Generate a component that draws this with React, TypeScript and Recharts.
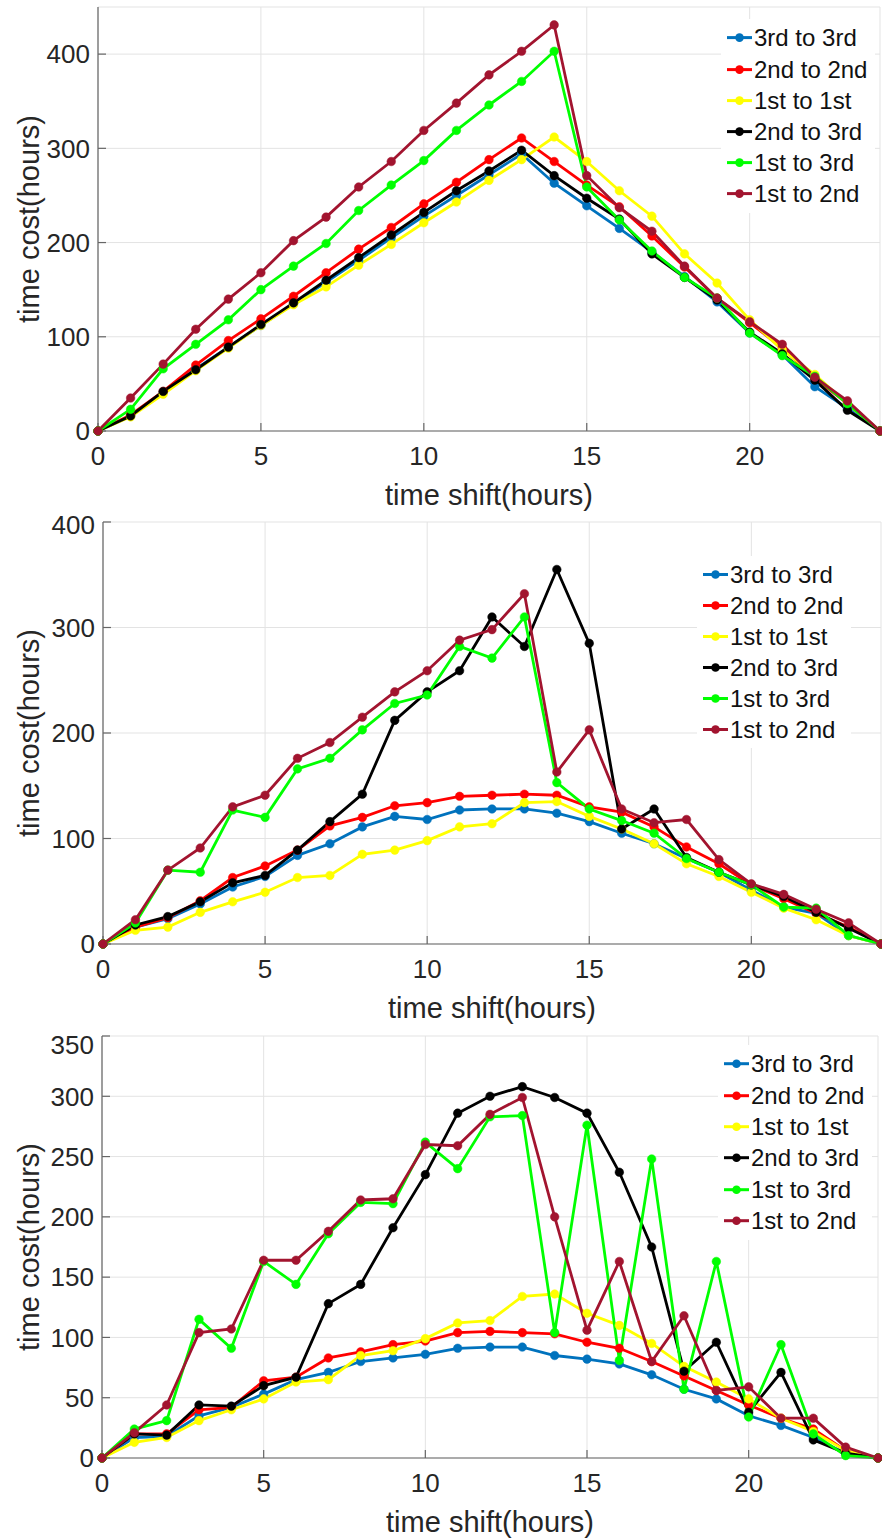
import { LineChart, Line, XAxis, YAxis, CartesianGrid } from 'recharts';

const hours = [0, 1, 2, 3, 4, 5, 6, 7, 8, 9, 10, 11, 12, 13, 14, 15, 16, 17, 18, 19, 20, 21, 22, 23, 24];

const seriesNames = ['3rd to 3rd', '2nd to 2nd', '1st to 1st', '2nd to 3rd', '1st to 3rd', '1st to 2nd'];
const seriesColors = ['#0072BD', '#FF0000', '#FFFF00', '#000000', '#00FF00', '#A2142F'];

const xTicks = [0, 5, 10, 15, 20];
const yTicksTop = [0, 100, 200, 300, 400];
const yTicksMid = [0, 100, 200, 300, 400];
const yTicksBottom = [0, 50, 100, 150, 200, 250, 300, 350];

// panel 1
const topBlue = [0, 16, 41, 66, 89, 112, 135, 158, 181, 205, 228, 250, 272, 294, 263, 239, 215, 190, 164, 137, 104, 81, 47, 24, 0];
const topRed = [0, 17, 42, 70, 96, 119, 143, 168, 193, 216, 241, 264, 288, 311, 286, 261, 238, 207, 174, 141, 115, 88, 56, 29, 0];
const topYellow = [0, 15, 39, 64, 88, 112, 134, 153, 176, 198, 221, 243, 266, 288, 312, 286, 255, 228, 188, 157, 118, 86, 60, 29, 0];
const topBlack = [0, 16, 42, 65, 89, 113, 136, 160, 184, 208, 232, 255, 276, 298, 271, 247, 225, 188, 163, 139, 105, 82, 54, 22, 0];
const topGreen = [0, 23, 66, 92, 118, 150, 175, 199, 234, 261, 287, 319, 346, 371, 403, 259, 224, 191, 163, 141, 104, 80, 58, 29, 0];
const topBrown = [0, 35, 71, 108, 140, 168, 202, 227, 259, 286, 319, 348, 378, 403, 431, 271, 237, 212, 175, 141, 116, 92, 57, 32, 0];

// panel 2
const midBlue = [0, 16, 24, 38, 54, 64, 84, 95, 111, 121, 118, 127, 128, 128, 124, 116, 105, 95, 81, 68, 51, 35, 29, 8, 0];
const midRed = [0, 16, 25, 41, 63, 74, 89, 112, 120, 131, 134, 140, 141, 142, 141, 130, 125, 111, 92, 76, 56, 43, 29, 16, 0];
const midYellow = [0, 13, 16, 30, 40, 49, 63, 65, 85, 89, 98, 111, 114, 134, 135, 121, 109, 95, 76, 64, 49, 34, 23, 8, 0];
const midBlack = [0, 18, 26, 40, 58, 65, 89, 116, 142, 212, 239, 259, 310, 282, 355, 285, 109, 128, 82, 68, 56, 45, 30, 15, 0];
const midGreen = [0, 20, 70, 68, 127, 120, 166, 176, 203, 228, 236, 282, 271, 310, 153, 128, 117, 105, 81, 68, 56, 35, 34, 8, 0];
const midBrown = [0, 23, 70, 91, 130, 141, 176, 191, 215, 239, 259, 288, 298, 332, 163, 203, 128, 115, 118, 80, 57, 47, 33, 20, 0];

// panel 3
const botBlue = [0, 17, 18, 35, 42, 53, 65, 71, 80, 83, 86, 91, 92, 92, 85, 82, 78, 69, 57, 49, 35, 27, 17, 4, 0];
const botRed = [0, 20, 20, 40, 42, 64, 67, 83, 88, 94, 97, 104, 105, 104, 103, 96, 91, 80, 68, 56, 44, 33, 24, 6, 0];
const botYellow = [0, 13, 17, 31, 40, 49, 63, 65, 85, 89, 99, 112, 114, 134, 136, 120, 110, 95, 76, 63, 49, 33, 22, 6, 0];
const botBlack = [0, 20, 19, 44, 43, 60, 67, 128, 144, 191, 235, 286, 300, 308, 299, 286, 237, 175, 72, 96, 38, 71, 15, 4, 0];
const botGreen = [0, 24, 31, 115, 91, 163, 144, 186, 212, 211, 262, 240, 283, 284, 104, 276, 81, 248, 57, 163, 34, 94, 20, 2, 0];
const botBrown = [0, 21, 44, 104, 107, 164, 164, 188, 214, 215, 260, 259, 285, 299, 200, 106, 163, 80, 118, 56, 59, 33, 33, 9, 0];

const FONT = '"Liberation Sans", Arial, sans-serif';
const W = 882;
const AXIS = '#666';

type PanelProps = {
  top: number;
  height: number;
  plotTop: number;
  plotBottom: number;
  plotLeft: number;
  plotRight: number;
  yMax: number;
  yTicks: number[];
  series: number[][];
  legendX: number;
  legendY: number;
  rowGap: number;
};

function LegendBox({ x, y, gap }: { x: number; y: number; gap: number }) {
  return (
    <div
      style={{
        position: 'absolute',
        left: x - 5,
        top: y - gap / 2 - 3,
        background: '#fff',
        padding: '3px 8px 3px 5px',
        fontFamily: FONT,
        fontSize: 24,
        color: '#111',
      }}
    >
      {seriesNames.map((name, i) => (
        <div key={name} style={{ display: 'flex', alignItems: 'center', height: gap, lineHeight: `${gap}px`, whiteSpace: 'nowrap' }}>
          <svg width={27} height={gap} style={{ display: 'block' }}>
            <line x1={1} x2={26} y1={gap / 2} y2={gap / 2} stroke={seriesColors[i]} strokeWidth={3} />
            <circle cx={13.5} cy={gap / 2} r={4.3} fill={seriesColors[i]} />
          </svg>
          <span style={{ marginLeft: 1 }}>{name}</span>
        </div>
      ))}
    </div>
  );
}

function Panel(p: PanelProps) {
  const data = hours.map((h, i) => {
    const row: Record<string, number> = { h };
    p.series.forEach((s, k) => {
      row['s' + k] = s[i];
    });
    return row;
  });
  const tick = { fontFamily: FONT, fontSize: 26, fill: '#262626' };
  const plotH = p.plotBottom - p.plotTop;
  const cx = (p.plotLeft + p.plotRight) / 2;
  const line = { stroke: AXIS, strokeWidth: 1.2 };

  return (
    <div style={{ position: 'absolute', left: 0, top: p.top, width: W, height: p.height }}>
      <LineChart
        width={W}
        height={p.height}
        data={data}
        margin={{ top: p.plotTop, right: W - p.plotRight, bottom: p.height - p.plotBottom - 30, left: 0 }}
      >
        <CartesianGrid stroke="#e3e3e3" strokeWidth={1} />
        <XAxis
          dataKey="h"
          type="number"
          domain={[0, 24]}
          ticks={xTicks}
          tick={tick}
          tickSize={-8}
          tickMargin={24}
          height={30}
          axisLine={line}
          tickLine={line}
        />
        <XAxis
          xAxisId="top"
          orientation="top"
          dataKey="h"
          type="number"
          domain={[0, 24]}
          ticks={xTicks}
          tick={false}
          tickSize={-8}
          height={0}
          axisLine={line}
          tickLine={line}
        />
        <YAxis
          type="number"
          domain={[0, p.yMax]}
          ticks={p.yTicks}
          tick={tick}
          tickSize={-8}
          tickMargin={16}
          width={p.plotLeft}
          axisLine={line}
          tickLine={line}
        />
        <YAxis
          yAxisId="right"
          orientation="right"
          type="number"
          domain={[0, p.yMax]}
          ticks={p.yTicks}
          tick={false}
          tickSize={-8}
          width={0}
          axisLine={line}
          tickLine={line}
        />
        {p.series.map((_, k) => (
          <Line
            key={k}
            type="linear"
            dataKey={'s' + k}
            stroke={seriesColors[k]}
            strokeWidth={2.8}
            dot={{ r: 4.3, fill: seriesColors[k], stroke: seriesColors[k], strokeWidth: 0.5 }}
            activeDot={false}
            isAnimationActive={false}
          />
        ))}
      </LineChart>
      <div
        style={{
          position: 'absolute',
          left: cx,
          top: p.plotBottom + 50,
          transform: 'translateX(-50%)',
          fontFamily: FONT,
          fontSize: 29,
          lineHeight: 1,
          whiteSpace: 'nowrap',
          color: '#262626',
        }}
      >
        time shift(hours)
      </div>
      <div
        style={{
          position: 'absolute',
          left: 29,
          top: p.plotTop + plotH / 2,
          transform: 'translate(-50%, -50%) rotate(-90deg)',
          fontFamily: FONT,
          fontSize: 29,
          lineHeight: 1,
          whiteSpace: 'nowrap',
          color: '#262626',
        }}
      >
        time cost(hours)
      </div>
      <LegendBox x={p.legendX} y={p.legendY - p.top} gap={p.rowGap} />
    </div>
  );
}

export default function App() {
  return (
    <div style={{ position: 'absolute', left: 0, top: 0, width: W, height: 1538, background: '#fff' }}>
      <Panel
        top={0}
        height={510}
        plotTop={7}
        plotBottom={431}
        plotLeft={98}
        plotRight={880}
        yMax={450}
        yTicks={yTicksTop}
        series={[topBlue, topRed, topYellow, topBlack, topGreen, topBrown]}
        legendX={726}
        legendY={38}
        rowGap={31.2}
      />
      <Panel
        top={510}
        height={520}
        plotTop={12}
        plotBottom={434}
        plotLeft={103}
        plotRight={881}
        yMax={400}
        yTicks={yTicksMid}
        series={[midBlue, midRed, midYellow, midBlack, midGreen, midBrown]}
        legendX={702}
        legendY={574}
        rowGap={31}
      />
      <Panel
        top={1030}
        height={508}
        plotTop={6}
        plotBottom={428}
        plotLeft={102}
        plotRight={878}
        yMax={350}
        yTicks={yTicksBottom}
        series={[botBlue, botRed, botYellow, botBlack, botGreen, botBrown]}
        legendX={723}
        legendY={1064}
        rowGap={31.4}
      />
    </div>
  );
}
